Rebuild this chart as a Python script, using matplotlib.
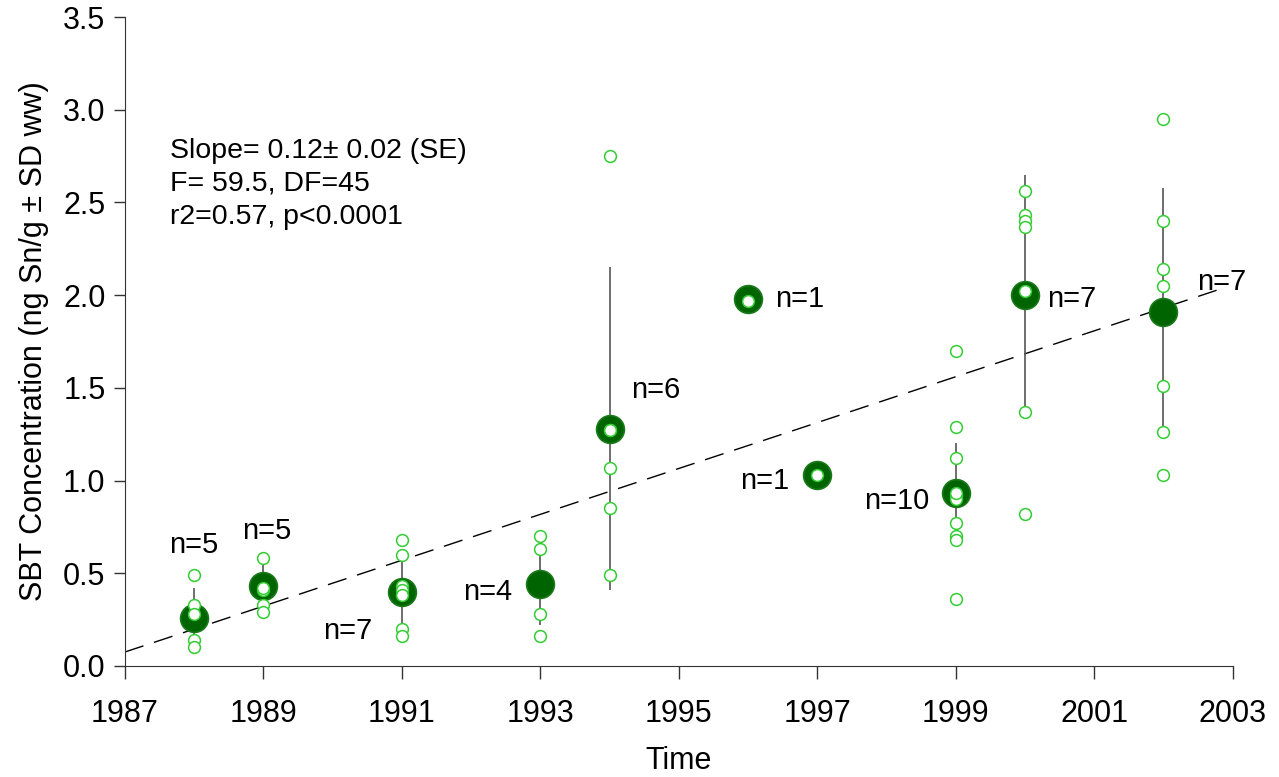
import matplotlib
matplotlib.use("Agg")
import matplotlib.pyplot as plt

plt.rcParams['font.family'] = ['Liberation Sans', 'DejaVu Sans']

# yearly means and standard deviations
years = [1988, 1989, 1991, 1993, 1994, 1996, 1997, 1999, 2000, 2002]
means = [0.26, 0.43, 0.40, 0.44, 1.28, 1.98, 1.03, 0.93, 2.00, 1.91]
sds = [0.16, 0.13, 0.19, 0.22, 0.87, 0.0, 0.0, 0.27, 0.65, 0.67]
n_labels = ['n=5', 'n=5', 'n=7', 'n=4', 'n=6', 'n=1', 'n=1', 'n=10', 'n=7', 'n=7']
label_x = [1988.0, 1989.05, 1990.22, 1992.24, 1994.67, 1996.75, 1996.24, 1998.15, 2000.68, 2002.84]
label_y = [0.65, 0.73, 0.19, 0.40, 1.49, 1.98, 1.00, 0.89, 1.98, 2.07]

# individual samples
ind_years = ([1988] * 5 + [1989] * 5 + [1991] * 7 + [1993] * 4 + [1994] * 6
             + [1996] + [1997] + [1999] * 10 + [2000] * 7 + [2002] * 7)
ind_values = ([0.49, 0.33, 0.28, 0.14, 0.10]
              + [0.58, 0.41, 0.33, 0.29, 0.42]
              + [0.68, 0.60, 0.43, 0.41, 0.38, 0.20, 0.16]
              + [0.70, 0.63, 0.28, 0.16]
              + [2.75, 1.27, 1.07, 0.85, 0.49, 1.27]
              + [1.97]
              + [1.03]
              + [1.70, 1.29, 1.12, 0.92, 0.90, 0.77, 0.70, 0.68, 0.36, 0.93]
              + [2.56, 2.43, 2.40, 2.37, 2.02, 1.37, 0.82]
              + [2.95, 2.40, 2.14, 2.05, 1.51, 1.26, 1.03])

# regression line end points
fit_x = [1987, 2002.8]
fit_y = [0.075, 2.03]

fig = plt.figure(figsize=(12.79, 7.77), dpi=100)
ax = fig.add_axes([0.0977, 0.143, 0.866, 0.835])

ax.errorbar(years, means, yerr=sds, fmt='none', ecolor='#555555', elinewidth=1.2,
            capsize=0, zorder=2)
ax.plot(fit_x, fit_y, color='black', linestyle=(0, (14, 8)), linewidth=1.0, zorder=1)
ax.plot(years, means, 'o', color='#006400', markeredgecolor='#1a7a1a',
        markersize=20, markeredgewidth=1.2, linestyle='none', zorder=3)
ax.plot(ind_years, ind_values, 'o', markerfacecolor='white', markeredgecolor='#33cc33',
        markersize=8.5, markeredgewidth=1.1, linestyle='none', zorder=4)

for x, y, t in zip(label_x, label_y, n_labels):
    ax.text(x, y, t, fontsize=21, ha='center', va='center')

ax.text(1987.65, 2.85, 'Slope= 0.12\u00b1 0.02 (SE)\nF= 59.5, DF=45\nr2=0.57, p<0.0001',
        fontsize=20.5, ha='left', va='top', linespacing=1.35)

ax.set_xlim(1987, 2003)
ax.set_ylim(0, 3.5)
ax.set_xticks(range(1987, 2004, 2))
ax.set_yticks([0.0, 0.5, 1.0, 1.5, 2.0, 2.5, 3.0, 3.5])
ax.set_yticklabels(['0.0', '0.5', '1.0', '1.5', '2.0', '2.5', '3.0', '3.5'])
ax.tick_params(axis='both', labelsize=22, direction='out', width=1, color='#333333')
ax.tick_params(axis='x', length=9, pad=15)
ax.tick_params(axis='y', length=8, pad=6)
for side in ['left', 'bottom']:
    ax.spines[side].set_color('#333333')
ax.spines['top'].set_visible(False)
ax.spines['right'].set_visible(False)
ax.set_xlabel('Time', fontsize=22, labelpad=12)
ax.set_ylabel('SBT Concentration (ng Sn/g \u00b1 SD ww)', fontsize=22, labelpad=10)

fig.savefig('out.png', dpi=100)
